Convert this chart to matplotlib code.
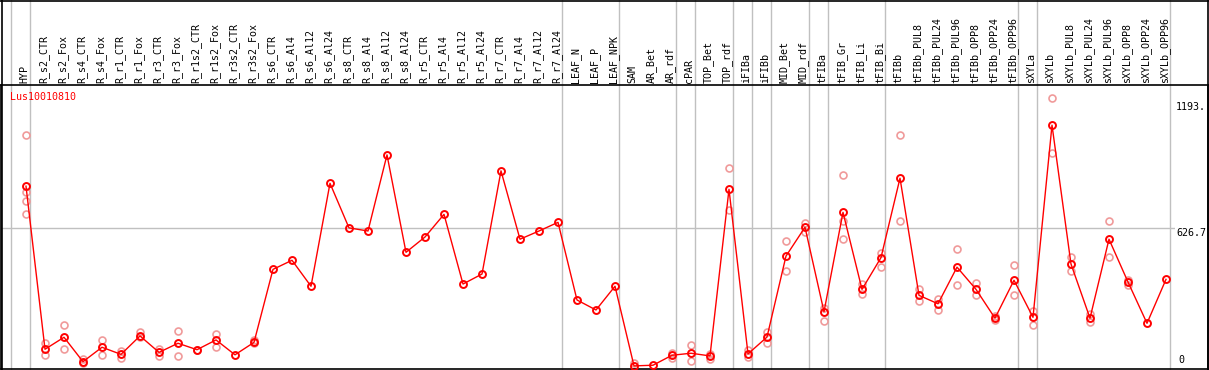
import numpy as np
import matplotlib
matplotlib.use("Agg")
import matplotlib.pyplot as plt
import matplotlib.transforms as mtransforms

# Categories (sample names)
samples = [
    "HYP",
    "R_s2_CTR", "R_s2_Fox", "R_s4_CTR", "R_s4_Fox", "R_r1_CTR", "R_r1_Fox",
    "R_r3_CTR", "R_r3_Fox", "R_r1s2_CTR", "R_r1s2_Fox", "R_r3s2_CTR", "R_r3s2_Fox",
    "R_s6_CTR", "R_s6_Al4", "R_s6_Al12", "R_s6_Al24",
    "R_s8_CTR", "R_s8_Al4", "R_s8_Al12", "R_s8_Al24",
    "R_r5_CTR", "R_r5_Al4", "R_r5_Al12", "R_r5_Al24",
    "R_r7_CTR", "R_r7_Al4", "R_r7_Al12", "R_r7_Al24",
    "LEAF_N", "LEAF_P", "LEAF_NPK",
    "SAM", "AR_Bet", "AR_rdf", "cPAR", "TOP_Bet", "TOP_rdf",
    "iFIBa", "iFIBb", "MID_Bet", "MID_rdf",
    "tFIBa", "tFIB_Gr", "tFIB_Li", "tFIB_Bi",
    "tFIBb", "tFIBb_PUL8", "tFIBb_PUL24", "tFIBb_PUL96",
    "tFIBb_OPP8", "tFIBb_OPP24", "tFIBb_OPP96",
    "sXYLa", "sXYLb", "sXYLb_PUL8", "sXYLb_PUL24", "sXYLb_PUL96",
    "sXYLb_OPP8", "sXYLb_OPP24", "sXYLb_OPP96",
]

# Mean expression per sample
means = [
    815,
    80, 134, 24, 89, 57, 140, 66, 107, 78, 122, 55, 111,
    440, 481, 364, 828,
    627, 613, 956, 517,
    586, 688, 374, 419,
    884, 576, 613, 652,
    302, 257, 364,
    5, 8, 53, 62, 50, 801,
    59, 135, 500, 630,
    249, 697, 350, 493,
    851, 323, 285, 450, 350, 220, 391,
    224, 1090, 464, 220, 576, 383, 197, 395,
]

# Replicate values (sample index, value)
rep_idx = [
    0, 0, 0, 0,
    1, 1, 2, 2, 3, 3, 4, 4, 5, 5, 6, 6, 7, 7, 8, 8, 9, 10, 10, 12, 12,
    32, 34, 34, 35, 35, 36, 36, 37, 37,
    38, 38, 39, 39, 40, 40, 41, 41,
    42, 42, 43, 43, 43, 44, 44, 45, 45,
    46, 46, 47, 47, 48, 48, 49, 49, 50, 50, 51, 51, 52, 52,
    53, 53, 54, 54, 55, 55, 56, 56, 57, 57, 58, 58,
]
rep_val = [
    1045, 790, 748, 688,
    107, 54, 188, 80, 35, 19, 122, 55, 72, 42, 158, 134, 83, 51, 162, 48, 78, 149, 92, 122, 107,
    19, 62, 39, 98, 27, 59, 37, 896, 708,
    77, 46, 159, 110, 567, 431, 651, 610,
    265, 207, 864, 658, 576, 373, 328, 513, 452,
    1046, 658, 350, 299, 305, 258, 531, 368, 379, 323, 230, 212, 459, 325,
    251, 188, 1211, 966, 495, 433, 239, 202, 658, 495, 392, 371,
]

# group separators (after these sample indices)
group_ends = [-1, 0, 28, 31, 34, 35, 37, 38, 39, 41, 42, 45, 52, 53, 60]

ref_levels = [1193, 626.7, 0]
ref_labels = ["1193.", "626.7", "0"]

W, H = 1209, 370
fig = plt.figure(figsize=(W / 100, H / 100), dpi=100)
ax = fig.add_axes([1 / W, 1 / H, 1207 / W, 284 / H])

x = np.arange(len(samples))
ax.set_xlim((1 - 26) / 19, (1208 - 26) / 19)
ax.set_ylim(-9, 1271)

font = dict(family="DejaVu Sans Mono", fontsize=7.2)
head = 1 + 85 / 284

for g in group_ends:
    ax.axvline(g + 0.22, ymin=0, ymax=head, color="#c0c0c0", lw=1, clip_on=False, zorder=1)
ax.axhline(626.7, color="#c0c0c0", lw=1, zorder=1)

ax.plot(rep_idx, rep_val, "o", ls="none", mfc="none", mec="#f09a9a", ms=5, mew=1.2, zorder=2)
ax.plot(x, means, "-", color="red", lw=1, zorder=3)
ax.plot(x, means, "o", ls="none", mfc="none", mec="red", ms=5, mew=1.4, zorder=4)

trans = mtransforms.blended_transform_factory(ax.transData, ax.transAxes)
for i, name in enumerate(samples):
    ax.text(i - 0.08, 1 + 2 / 284, name, rotation=90, ha="center", va="bottom",
            transform=trans, clip_on=False, **font)

ax.text(10 / W, 1 - 97 / H, "Lus10010810", color="red", ha="left", va="center",
        transform=fig.transFigure, **font)

for lev, lab in zip(ref_levels, ref_labels):
    if lev == 0:
        ax.text(1178, 8, lab, ha="left", va="bottom", transform=mtransforms.blended_transform_factory(
            mtransforms.IdentityTransform(), ax.transData), **font)
    else:
        ax.text((1176 - 26) / 19, lev, lab, ha="left", va="top", zorder=5,
                bbox=dict(facecolor="white", edgecolor="none", pad=0.5), **font)

# frame: top of header, header line, left/right/bottom borders
for s in ["left", "right", "bottom", "top"]:
    ax.spines[s].set_linewidth(1.2)
    ax.spines[s].set_color("black")
fig.add_artist(plt.Line2D([0, 1], [1 - 0.6 / H, 1 - 0.6 / H], color="black", lw=1.2, transform=fig.transFigure))
fig.add_artist(plt.Line2D([1.5 / W, 1.5 / W], [0, 1], color="black", lw=1.2, transform=fig.transFigure))
fig.add_artist(plt.Line2D([1 - 1.5 / W, 1 - 1.5 / W], [0, 1], color="black", lw=1.2, transform=fig.transFigure))

ax.set_xticks([])
ax.set_yticks([])

fig.savefig("out.png", dpi=100)
